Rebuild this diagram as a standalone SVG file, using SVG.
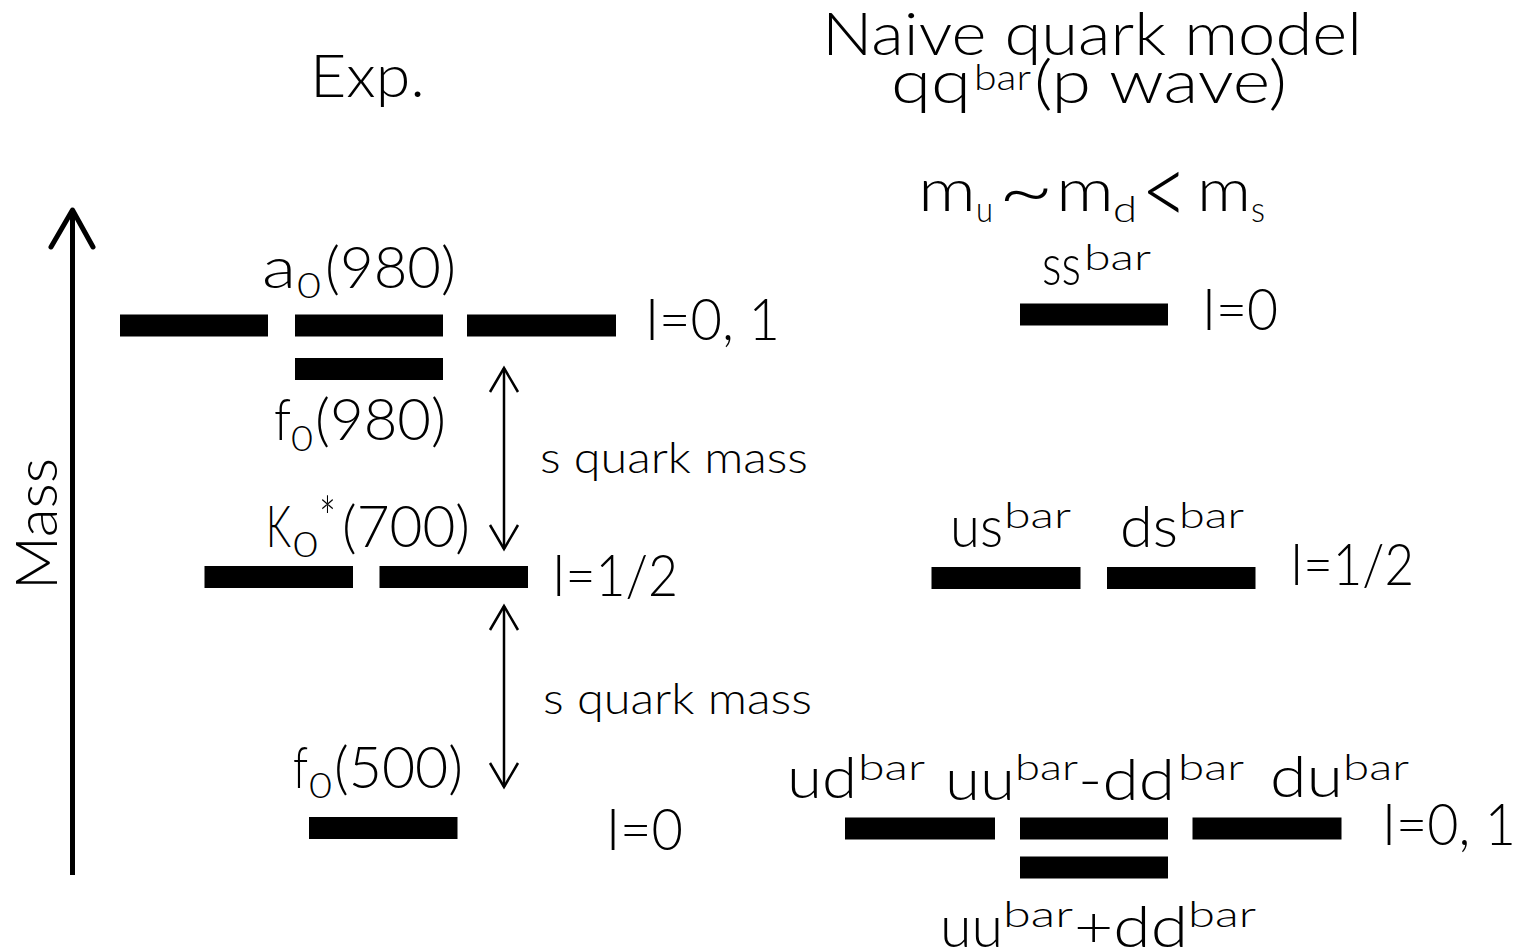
<svg xmlns="http://www.w3.org/2000/svg" width="1522" height="951" viewBox="0 0 1522 951">
<style>
text{font-family:Lato,"Liberation Sans",Arial,sans-serif;font-weight:300;fill:#000}
.big{font-size:57px}
.title{font-size:60px}
.sm{font-size:36px}
.mid{font-size:44px}
.op{font-size:80px}
.lt{font-size:100px}
.star{font-size:60px}
.bar{fill:#000}
.conn{fill:none;stroke:#000}
</style>
<rect width="1522" height="951" fill="#fff"/>

<g id="headers">
<text class="title" x="310" y="97" textLength="115" lengthAdjust="spacingAndGlyphs">Exp.</text>
<text class="title" x="822" y="55" textLength="540" lengthAdjust="spacingAndGlyphs">Naive quark model</text>
<text class="title"><tspan x="891" y="103" textLength="80" lengthAdjust="spacingAndGlyphs">qq</tspan><tspan class="sm" x="974" y="90" textLength="57" lengthAdjust="spacingAndGlyphs">bar</tspan><tspan x="1034" y="103" textLength="253" lengthAdjust="spacingAndGlyphs">(p wave)</tspan></text>
<text class="title"><tspan x="918" y="211" textLength="58" lengthAdjust="spacingAndGlyphs">m</tspan><tspan class="sm" x="976" y="222" textLength="17" lengthAdjust="spacingAndGlyphs">u</tspan><tspan class="op" x="998" y="219" textLength="56" lengthAdjust="spacingAndGlyphs">~</tspan><tspan x="1056" y="211" textLength="58" lengthAdjust="spacingAndGlyphs">m</tspan><tspan class="sm" x="1113" y="222" textLength="24" lengthAdjust="spacingAndGlyphs">d</tspan><tspan class="lt" x="1141" y="226" textLength="47" lengthAdjust="spacingAndGlyphs">&lt;</tspan><tspan x="1197" y="211" textLength="54" lengthAdjust="spacingAndGlyphs">m</tspan><tspan class="sm" x="1251" y="222" textLength="14" lengthAdjust="spacingAndGlyphs">s</tspan></text>
<text class="big" transform="translate(57,524) rotate(-90)" text-anchor="middle" textLength="132" lengthAdjust="spacingAndGlyphs">Mass</text>
</g>

<g id="connectors">
<line class="conn" x1="72.5" y1="212" x2="72.5" y2="875" stroke-width="5"/>
<polyline class="conn" points="51,247 72.5,210 93,247" stroke-width="5" stroke-linecap="round" stroke-linejoin="round"/>
<line class="conn" x1="504" y1="368" x2="504" y2="549" stroke-width="2.5"/>
<polyline class="conn" points="490,392 504,368 518,392" stroke-width="2.5"/>
<polyline class="conn" points="490,525 504,549 518,525" stroke-width="2.5"/>
<line class="conn" x1="504" y1="606" x2="504" y2="787" stroke-width="2.5"/>
<polyline class="conn" points="490,630 504,606 518,630" stroke-width="2.5"/>
<polyline class="conn" points="490,763 504,787 518,763" stroke-width="2.5"/>
<text class="mid" x="540" y="473" textLength="268" lengthAdjust="spacingAndGlyphs">s quark mass</text>
<text class="mid" x="543" y="714" textLength="269" lengthAdjust="spacingAndGlyphs">s quark mass</text>
</g>

<g id="exp-a0-f0-980">
<rect class="bar" x="120" y="314.5" width="148" height="22"/>
<rect class="bar" x="295" y="314.5" width="148" height="22"/>
<rect class="bar" x="467" y="314.5" width="149" height="22"/>
<rect class="bar" x="295" y="358" width="148" height="22"/>
<text class="big"><tspan x="262" y="288" textLength="34" lengthAdjust="spacingAndGlyphs">a</tspan><tspan class="sm" x="297" y="298" textLength="24" lengthAdjust="spacingAndGlyphs">0</tspan><tspan x="325" y="288" textLength="131" lengthAdjust="spacingAndGlyphs">(980)</tspan></text>
<text class="big"><tspan x="274" y="440" textLength="17" lengthAdjust="spacingAndGlyphs">f</tspan><tspan class="sm" x="291" y="451" textLength="22" lengthAdjust="spacingAndGlyphs">0</tspan><tspan x="315" y="440" textLength="131" lengthAdjust="spacingAndGlyphs">(980)</tspan></text>
<text class="big" x="645" y="340" textLength="135" lengthAdjust="spacingAndGlyphs">I=0, 1</text>
</g>

<g id="exp-k0-700">
<rect class="bar" x="204.5" y="566" width="148.5" height="22"/>
<rect class="bar" x="379.5" y="566" width="148.5" height="22"/>
<text class="big"><tspan x="266" y="547" textLength="25" lengthAdjust="spacingAndGlyphs">K</tspan><tspan class="sm" x="293" y="557" textLength="25" lengthAdjust="spacingAndGlyphs">0</tspan><tspan class="star" x="319" y="540" textLength="17" lengthAdjust="spacingAndGlyphs">*</tspan><tspan x="342" y="547" textLength="128" lengthAdjust="spacingAndGlyphs">(700)</tspan></text>
<text class="big" x="552" y="596" textLength="126" lengthAdjust="spacingAndGlyphs">I=1/2</text>
</g>

<g id="exp-f0-500">
<rect class="bar" x="309" y="817" width="148.5" height="22"/>
<text class="big"><tspan x="293" y="788" textLength="15" lengthAdjust="spacingAndGlyphs">f</tspan><tspan class="sm" x="309" y="798" textLength="23" lengthAdjust="spacingAndGlyphs">0</tspan><tspan x="334" y="788" textLength="129" lengthAdjust="spacingAndGlyphs">(500)</tspan></text>
<text class="big" x="606" y="850" textLength="77" lengthAdjust="spacingAndGlyphs">I=0</text>
</g>

<g id="qm-ssbar">
<rect class="bar" x="1020" y="303.5" width="148" height="22"/>
<text class="big"><tspan x="1042" y="285" textLength="39" lengthAdjust="spacingAndGlyphs">ss</tspan><tspan class="sm" x="1084" y="270" textLength="67" lengthAdjust="spacingAndGlyphs">bar</tspan></text>
<text class="big" x="1202" y="330" textLength="76" lengthAdjust="spacingAndGlyphs">I=0</text>
</g>

<g id="qm-usbar-dsbar">
<rect class="bar" x="931.5" y="567" width="149" height="22"/>
<rect class="bar" x="1107" y="567" width="148.5" height="22"/>
<text class="big"><tspan x="950" y="547" textLength="53" lengthAdjust="spacingAndGlyphs">us</tspan><tspan class="sm" x="1004" y="528" textLength="67" lengthAdjust="spacingAndGlyphs">bar</tspan></text>
<text class="big"><tspan x="1120" y="547" textLength="58" lengthAdjust="spacingAndGlyphs">ds</tspan><tspan class="sm" x="1179" y="528" textLength="65" lengthAdjust="spacingAndGlyphs">bar</tspan></text>
<text class="big" x="1290" y="585" textLength="124" lengthAdjust="spacingAndGlyphs">I=1/2</text>
</g>

<g id="qm-light">
<rect class="bar" x="845" y="817.5" width="150" height="22"/>
<rect class="bar" x="1020" y="817.5" width="148" height="22"/>
<rect class="bar" x="1192.5" y="817.5" width="149" height="22"/>
<rect class="bar" x="1020" y="856.5" width="148" height="22"/>
<text class="big"><tspan x="787" y="798" textLength="70" lengthAdjust="spacingAndGlyphs">ud</tspan><tspan class="sm" x="858" y="780" textLength="67" lengthAdjust="spacingAndGlyphs">bar</tspan></text>
<text class="big"><tspan x="945" y="800" textLength="70" lengthAdjust="spacingAndGlyphs">uu</tspan><tspan class="sm" x="1015" y="780" textLength="63" lengthAdjust="spacingAndGlyphs">bar</tspan><tspan x="1078" y="800" textLength="97" lengthAdjust="spacingAndGlyphs">-dd</tspan><tspan class="sm" x="1178" y="780" textLength="66" lengthAdjust="spacingAndGlyphs">bar</tspan></text>
<text class="big"><tspan x="1270" y="797" textLength="73" lengthAdjust="spacingAndGlyphs">du</tspan><tspan class="sm" x="1343" y="780" textLength="66" lengthAdjust="spacingAndGlyphs">bar</tspan></text>
<text class="big"><tspan x="940" y="947" textLength="63" lengthAdjust="spacingAndGlyphs">uu</tspan><tspan class="sm" x="1003" y="927" textLength="70" lengthAdjust="spacingAndGlyphs">bar</tspan><tspan x="1074" y="947" textLength="114" lengthAdjust="spacingAndGlyphs">+dd</tspan><tspan class="sm" x="1188" y="927" textLength="68" lengthAdjust="spacingAndGlyphs">bar</tspan></text>
<text class="big" x="1382" y="845" textLength="134" lengthAdjust="spacingAndGlyphs">I=0, 1</text>
</g>
</svg>
